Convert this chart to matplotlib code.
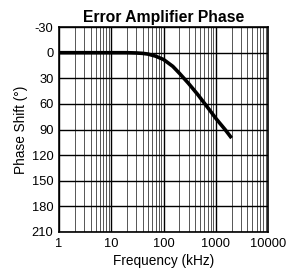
import numpy as np
import matplotlib
matplotlib.use("Agg")
import matplotlib.pyplot as plt
from matplotlib.ticker import LogLocator, NullFormatter

# curve
freq_khz = [1, 10, 20, 30, 40, 50, 70, 100, 150, 200, 300, 450, 600, 800, 1000, 1500, 2000]
phase_deg = [0, 0, 0, 0.3, 0.8, 1.6, 4, 8, 16, 24, 36, 49, 59, 69, 77, 90, 100]

x_ticks = [1, 10, 100, 1000, 10000]
x_labels = ["1", "10", "100", "1000", "10000"]
y_ticks = [-30, 0, 30, 60, 90, 120, 150, 180, 210]

plt.rcParams['font.family'] = ['Liberation Sans', 'DejaVu Sans']

fig = plt.figure(figsize=(2.94, 2.71), dpi=100)
ax = fig.add_axes([0.201, 0.144, 0.711, 0.756])

ax.plot(freq_khz, phase_deg, color="black", lw=2.6, solid_capstyle="butt",
        solid_joinstyle="round", zorder=3)

ax.set_xscale("log")
ax.set_xlim(1, 10000)
ax.set_ylim(210, -30)
ax.set_xticks(x_ticks)
ax.set_xticklabels(x_labels)
ax.xaxis.set_minor_locator(LogLocator(base=10, subs=np.arange(2, 10)))
ax.xaxis.set_minor_formatter(NullFormatter())
ax.set_yticks(y_ticks)
ax.set_yticklabels([str(v) for v in y_ticks])

ax.grid(True, which="major", color="black", lw=1.0)
ax.grid(True, which="minor", axis="x", color="#555555", lw=0.7)
ax.tick_params(which="both", length=0, labelsize=9.3, pad=4)
for s in ax.spines.values():
    s.set_linewidth(1.2)

ax.set_title("Error Amplifier Phase", fontsize=11.3, fontweight="bold", pad=4)
ax.set_xlabel("Frequency (kHz)", fontsize=9.8, labelpad=3)
ax.set_ylabel("Phase Shift (°)", fontsize=9.8, labelpad=3)

fig.savefig("out.png", dpi=100)
